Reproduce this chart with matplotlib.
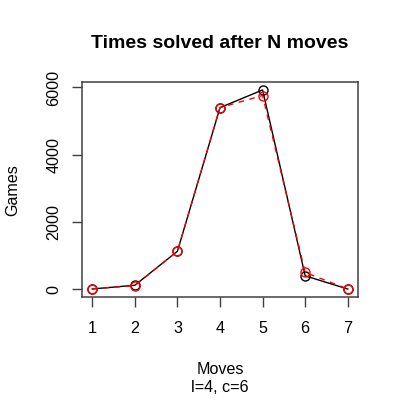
import matplotlib
matplotlib.use('Agg')
import matplotlib.pyplot as plt

plt.rcParams['font.family'] = ['Liberation Sans', 'DejaVu Sans']

moves = [1, 2, 3, 4, 5, 6, 7]
games_a = [10, 120, 1130, 5400, 5925, 400, 8]
games_b = [10, 110, 1130, 5400, 5760, 500, 10]
yticks = [0, 2000, 4000, 6000]

fig = plt.figure(figsize=(4, 4), dpi=100)
ax = fig.add_axes([82 / 400, 1 - 297 / 400, (358 - 82) / 400, (297 - 82) / 400])

ax.plot(moves, games_a, color='black', lw=1.0, marker='o', ms=6.5,
        mfc='none', mec='black', mew=1.0)
ax.plot(moves, games_b, color='red', lw=1.0, ls=(0, (4, 4)), marker='o', ms=6.5,
        mfc='none', mec='red', mew=1.0)

# R-style padding: 4% beyond data range
ymin, ymax = min(games_a + games_b), max(games_a + games_b)
dy = (ymax - ymin) * 0.04
ax.set_xlim(1 - 0.24, 7 + 0.24)
ax.set_ylim(ymin - dy, ymax + dy)

ax.set_xticks(moves)
ax.set_yticks(yticks)
for s in ax.spines.values():
    s.set_color('#404040')
    s.set_linewidth(1.1)
ax.tick_params(direction='out', length=7, width=1.0, color='#404040',
               labelsize=11.6, pad=10.5)
ax.tick_params(axis='y', labelrotation=90, pad=8)
for lab in ax.get_yticklabels():
    lab.set_verticalalignment('center')

fig.text(220 / 400, 1 - 43 / 400, 'Times solved after N moves',
         ha='center', va='center', fontsize=14, fontweight='bold')
fig.text(220 / 400, 1 - 369 / 400, 'Moves', ha='center', va='center', fontsize=11.6)
fig.text(220 / 400, 1 - 387.5 / 400, 'l=4, c=6', ha='center', va='center', fontsize=11.6)
fig.text(13 / 400, 1 - 190 / 400, 'Games', ha='center', va='center',
         rotation=90, fontsize=11.6)

fig.savefig('out.png', dpi=100)
